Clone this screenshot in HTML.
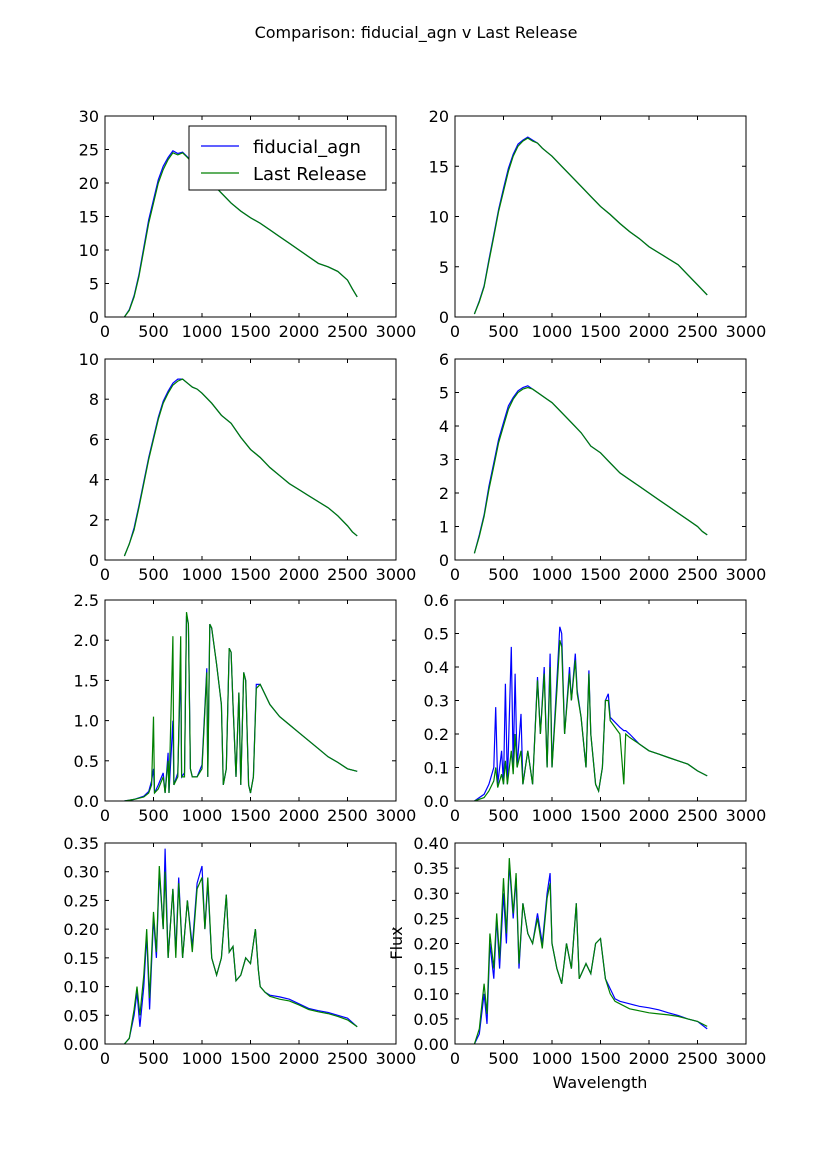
<!DOCTYPE html>
<html><head><meta charset="utf-8"><style>
body{margin:0;background:#fff;}
svg{display:block;font-family:"DejaVu Sans","Liberation Sans",sans-serif;}
</style></head><body>
<svg id="fig" width="830" height="1160" viewBox="0 0 830 1160" xmlns="http://www.w3.org/2000/svg">
<rect width="830" height="1160" fill="#fff"/>
<text x="416" y="38" font-size="16" text-anchor="middle">Comparison: fiducial_agn v Last Release</text>
<text x="0" y="0" font-size="16" text-anchor="middle" transform="translate(402,943) rotate(-90)">Flux</text>
<text x="600" y="1088" font-size="16" text-anchor="middle">Wavelength</text>
</svg>
<script>
const xTicks=[0,500,1000,1500,2000,2500,3000];
const w1=[200,250,300,350,400,450,500,550,600,650,700,750,800,850,900,950,1000,1100,1200,1300,1400,1500,1600,1700,1800,1900,2000,2100,2200,2300,2400,2500,2550,2600];
const g1=[0,1,3,6,10,14,17,20,22,23.5,24.5,24.2,24.5,23.8,23,22.5,21.5,20,18.5,17,15.8,14.8,14,13,12,11,10,9,8,7.5,6.8,5.5,4.2,3];
const b1=[0,1.1,3.2,6.3,10.4,14.5,17.5,20.5,22.5,23.8,24.8,24.4,24.6,23.9,23,22.5,21.5,20,18.5,17,15.8,14.8,14,13,12,11,10,9,8,7.5,6.8,5.5,4.2,3];
const g2=[0.3,1.5,3,5.5,8,10.5,12.5,14.5,16,17,17.5,17.8,17.5,17.3,16.8,16.4,16,15,14,13,12,11,10.2,9.3,8.5,7.8,7,6.4,5.8,5.2,4.2,3.2,2.7,2.2];
const b2=[0.3,1.6,3.1,5.7,8.2,10.7,12.8,14.8,16.2,17.2,17.6,17.9,17.6,17.3,16.8,16.4,16,15,14,13,12,11,10.2,9.3,8.5,7.8,7,6.4,5.8,5.2,4.2,3.2,2.7,2.2];
const g3=[0.2,0.8,1.5,2.6,3.8,5,6,7,7.8,8.3,8.7,8.9,9,8.8,8.6,8.5,8.3,7.8,7.2,6.8,6.1,5.5,5.1,4.6,4.2,3.8,3.5,3.2,2.9,2.6,2.2,1.7,1.4,1.2];
const b3=[0.2,0.8,1.6,2.7,3.9,5.1,6.1,7.1,7.9,8.4,8.8,9,9,8.8,8.6,8.5,8.3,7.8,7.2,6.8,6.1,5.5,5.1,4.6,4.2,3.8,3.5,3.2,2.9,2.6,2.2,1.7,1.4,1.2];
const g4=[0.2,0.7,1.3,2.1,2.8,3.5,4,4.5,4.8,5,5.1,5.15,5.1,5,4.9,4.8,4.7,4.4,4.1,3.8,3.4,3.2,2.9,2.6,2.4,2.2,2,1.8,1.6,1.4,1.2,1,0.85,0.75];
const b4=[0.2,0.75,1.35,2.2,2.9,3.6,4.1,4.6,4.85,5.05,5.15,5.2,5.1,5,4.9,4.8,4.7,4.4,4.1,3.8,3.4,3.2,2.9,2.6,2.4,2.2,2,1.8,1.6,1.4,1.2,1,0.85,0.75];
const w5=[200,300,400,450,480,500,510,550,600,620,650,660,700,710,750,780,790,820,840,860,880,900,950,1000,1050,1060,1080,1100,1150,1200,1220,1250,1280,1300,1320,1350,1380,1400,1430,1450,1480,1500,1530,1560,1600,1700,1800,1900,2000,2100,2200,2300,2400,2500,2600];
const g5=[0,0.02,0.05,0.1,0.2,1.05,0.1,0.15,0.3,0.1,0.5,0.1,2.05,0.2,0.3,2.05,0.3,0.3,2.35,2.2,0.4,0.3,0.3,0.4,1.6,0.3,2.2,2.15,1.7,1.2,0.2,0.4,1.9,1.85,1.2,0.3,1.35,0.2,1.6,1.5,0.2,0.1,0.3,1.4,1.45,1.2,1.05,0.95,0.85,0.75,0.65,0.55,0.48,0.4,0.37];
const b5=[0,0.02,0.06,0.12,0.25,0.4,0.1,0.2,0.35,0.1,0.6,0.1,1.0,0.2,0.35,1.7,0.3,0.35,2.3,2.2,0.4,0.3,0.3,0.45,1.65,0.3,2.2,2.15,1.7,1.2,0.2,0.4,1.9,1.85,1.2,0.3,1.35,0.2,1.6,1.5,0.2,0.1,0.3,1.45,1.45,1.2,1.05,0.95,0.85,0.75,0.65,0.55,0.48,0.4,0.37];
const w6=[200,300,350,400,420,440,480,500,520,540,580,600,620,640,680,700,750,800,850,880,920,950,980,1000,1050,1080,1100,1130,1180,1200,1240,1260,1300,1350,1380,1400,1450,1480,1520,1550,1580,1600,1700,1740,1760,1800,1900,2000,2100,2200,2300,2400,2500,2600];
const b6=[0,0.02,0.05,0.1,0.28,0.05,0.15,0.05,0.35,0.05,0.46,0.1,0.38,0.1,0.26,0.05,0.15,0.05,0.37,0.2,0.4,0.1,0.44,0.1,0.36,0.52,0.5,0.2,0.4,0.3,0.44,0.33,0.25,0.1,0.39,0.2,0.05,0.03,0.1,0.3,0.32,0.25,0.22,0.21,0.21,0.2,0.17,0.15,0.14,0.13,0.12,0.11,0.09,0.075];
const g6=[0,0.01,0.03,0.06,0.1,0.04,0.08,0.05,0.12,0.05,0.15,0.08,0.2,0.1,0.15,0.05,0.15,0.05,0.36,0.2,0.38,0.1,0.4,0.1,0.33,0.48,0.46,0.2,0.38,0.3,0.42,0.32,0.25,0.1,0.38,0.2,0.05,0.03,0.1,0.3,0.3,0.24,0.2,0.05,0.2,0.19,0.17,0.15,0.14,0.13,0.12,0.11,0.09,0.075];
const w7=[200,250,300,330,360,400,430,460,500,530,560,600,620,650,700,730,760,800,850,900,950,1000,1030,1060,1100,1150,1200,1250,1280,1320,1350,1400,1450,1500,1550,1580,1600,1650,1700,1800,1900,2000,2100,2200,2300,2400,2500,2600];
const b7=[0,0.01,0.05,0.09,0.03,0.1,0.19,0.06,0.22,0.15,0.3,0.2,0.34,0.15,0.27,0.16,0.29,0.15,0.25,0.17,0.28,0.31,0.2,0.28,0.15,0.12,0.15,0.26,0.16,0.17,0.11,0.12,0.15,0.14,0.2,0.13,0.1,0.09,0.085,0.082,0.078,0.07,0.062,0.058,0.055,0.05,0.045,0.03];
const g7=[0,0.01,0.06,0.1,0.05,0.12,0.2,0.08,0.23,0.16,0.31,0.2,0.3,0.15,0.27,0.15,0.28,0.15,0.25,0.16,0.27,0.29,0.2,0.29,0.15,0.12,0.15,0.26,0.16,0.17,0.11,0.12,0.15,0.14,0.2,0.13,0.1,0.09,0.083,0.078,0.075,0.068,0.06,0.056,0.053,0.048,0.042,0.03];
const w8=[200,250,300,330,360,400,430,460,500,530,560,600,630,660,700,750,800,850,900,950,980,1000,1050,1100,1150,1200,1250,1280,1350,1400,1450,1500,1550,1600,1650,1700,1800,1900,2000,2100,2200,2300,2400,2500,2600];
const b8=[0,0.02,0.1,0.04,0.2,0.13,0.25,0.15,0.3,0.2,0.36,0.25,0.33,0.15,0.28,0.22,0.2,0.26,0.2,0.3,0.34,0.2,0.15,0.12,0.2,0.15,0.28,0.13,0.16,0.14,0.2,0.21,0.13,0.11,0.09,0.085,0.08,0.075,0.072,0.068,0.062,0.057,0.05,0.045,0.03];
const g8=[0,0.03,0.12,0.06,0.22,0.15,0.26,0.17,0.33,0.22,0.37,0.26,0.34,0.16,0.28,0.22,0.2,0.25,0.19,0.29,0.32,0.2,0.15,0.12,0.2,0.15,0.28,0.13,0.16,0.14,0.2,0.21,0.13,0.1,0.085,0.08,0.07,0.066,0.062,0.06,0.058,0.055,0.05,0.045,0.035];
const yTicks1=["0","5","10","15","20","25","30"];
const yTicks2=["0","5","10","15","20"];
const yTicks3=["0","2","4","6","8","10"];
const yTicks4=["0","1","2","3","4","5","6"];
const yTicks5=["0.0","0.5","1.0","1.5","2.0","2.5"];
const yTicks6=["0.0","0.1","0.2","0.3","0.4","0.5","0.6"];
const yTicks7=["0.00","0.05","0.10","0.15","0.20","0.25","0.30","0.35"];
const yTicks8=["0.00","0.05","0.10","0.15","0.20","0.25","0.30","0.35","0.40"];

const NS="http://www.w3.org/2000/svg";
const svg=document.getElementById('fig');
function mk(tag,attrs,parent){const e=document.createElementNS(NS,tag);for(const k in attrs)e.setAttribute(k,attrs[k]);(parent||svg).appendChild(e);return e;}
const cols=[105,455],rows=[116,359,600,843],W=291,H=201;
const panels=[
 {c:0,r:0,w:w1,b:b1,g:g1,t:yTicks1},{c:1,r:0,w:w1,b:b2,g:g2,t:yTicks2},
 {c:0,r:1,w:w1,b:b3,g:g3,t:yTicks3},{c:1,r:1,w:w1,b:b4,g:g4,t:yTicks4},
 {c:0,r:2,w:w5,b:b5,g:g5,t:yTicks5},{c:1,r:2,w:w6,b:b6,g:g6,t:yTicks6},
 {c:0,r:3,w:w7,b:b7,g:g7,t:yTicks7},{c:1,r:3,w:w8,b:b8,g:g8,t:yTicks8}];
panels.forEach((p,i)=>{
 const x0=cols[p.c],y0=rows[p.r];
 const ymax=parseFloat(p.t[p.t.length-1]);
 const sx=v=>x0+v/3000*W, sy=v=>y0+H-v/ymax*H;
 const g=mk('g',{});
 
 
 const clip=mk('clipPath',{id:'c'+i},g);mk('rect',{x:x0,y:y0,width:W,height:H},clip);
 [['b','#0000ff','fiducial-agn-line'],['g','#008000','last-release-line']].forEach(([k,col,nm])=>{
  const d=p.w.map((x,j)=>(j?'L':'M')+sx(x).toFixed(1)+','+sy(p[k][j]).toFixed(1)).join('');
  const pa=mk('path',{d:d,fill:'none',stroke:col,'stroke-width':1.2,'clip-path':'url(#c'+i+')'},g);
  
  
 });
 xTicks.forEach(v=>{const x=sx(v);
  mk('line',{x1:x,x2:x,y1:y0+H,y2:y0+H-4,stroke:'#000'},g);mk('line',{x1:x,x2:x,y1:y0,y2:y0+4,stroke:'#000'},g);
  const t=mk('text',{x:x,y:y0+H+20,'font-size':16,'text-anchor':'middle'},g);t.textContent=v;
  
  });
 p.t.forEach(s=>{const y=sy(parseFloat(s));
  mk('line',{x1:x0,x2:x0+4,y1:y,y2:y,stroke:'#000'},g);mk('line',{x1:x0+W,x2:x0+W-4,y1:y,y2:y,stroke:'#000'},g);
  const t=mk('text',{x:x0-6,y:y+6,'font-size':16,'text-anchor':'end'},g);t.textContent=s;
  
  });
 mk('rect',{x:x0,y:y0,width:W,height:H,fill:'none',stroke:'#000','stroke-width':1},g);
});
const lg=mk('g',{});


mk('rect',{x:189,y:126,width:197,height:64,fill:'#fff',stroke:'#000'},lg);
mk('line',{x1:201,x2:239,y1:146,y2:146,stroke:'#0000ff','stroke-width':1.2},lg);
mk('line',{x1:201,x2:239,y1:173,y2:173,stroke:'#008000','stroke-width':1.2},lg);
const l1=mk('text',{x:253,y:153,'font-size':18},lg);l1.textContent='fiducial_agn';


const l2=mk('text',{x:253,y:180,'font-size':18},lg);l2.textContent='Last Release';


</script>
</body></html>
